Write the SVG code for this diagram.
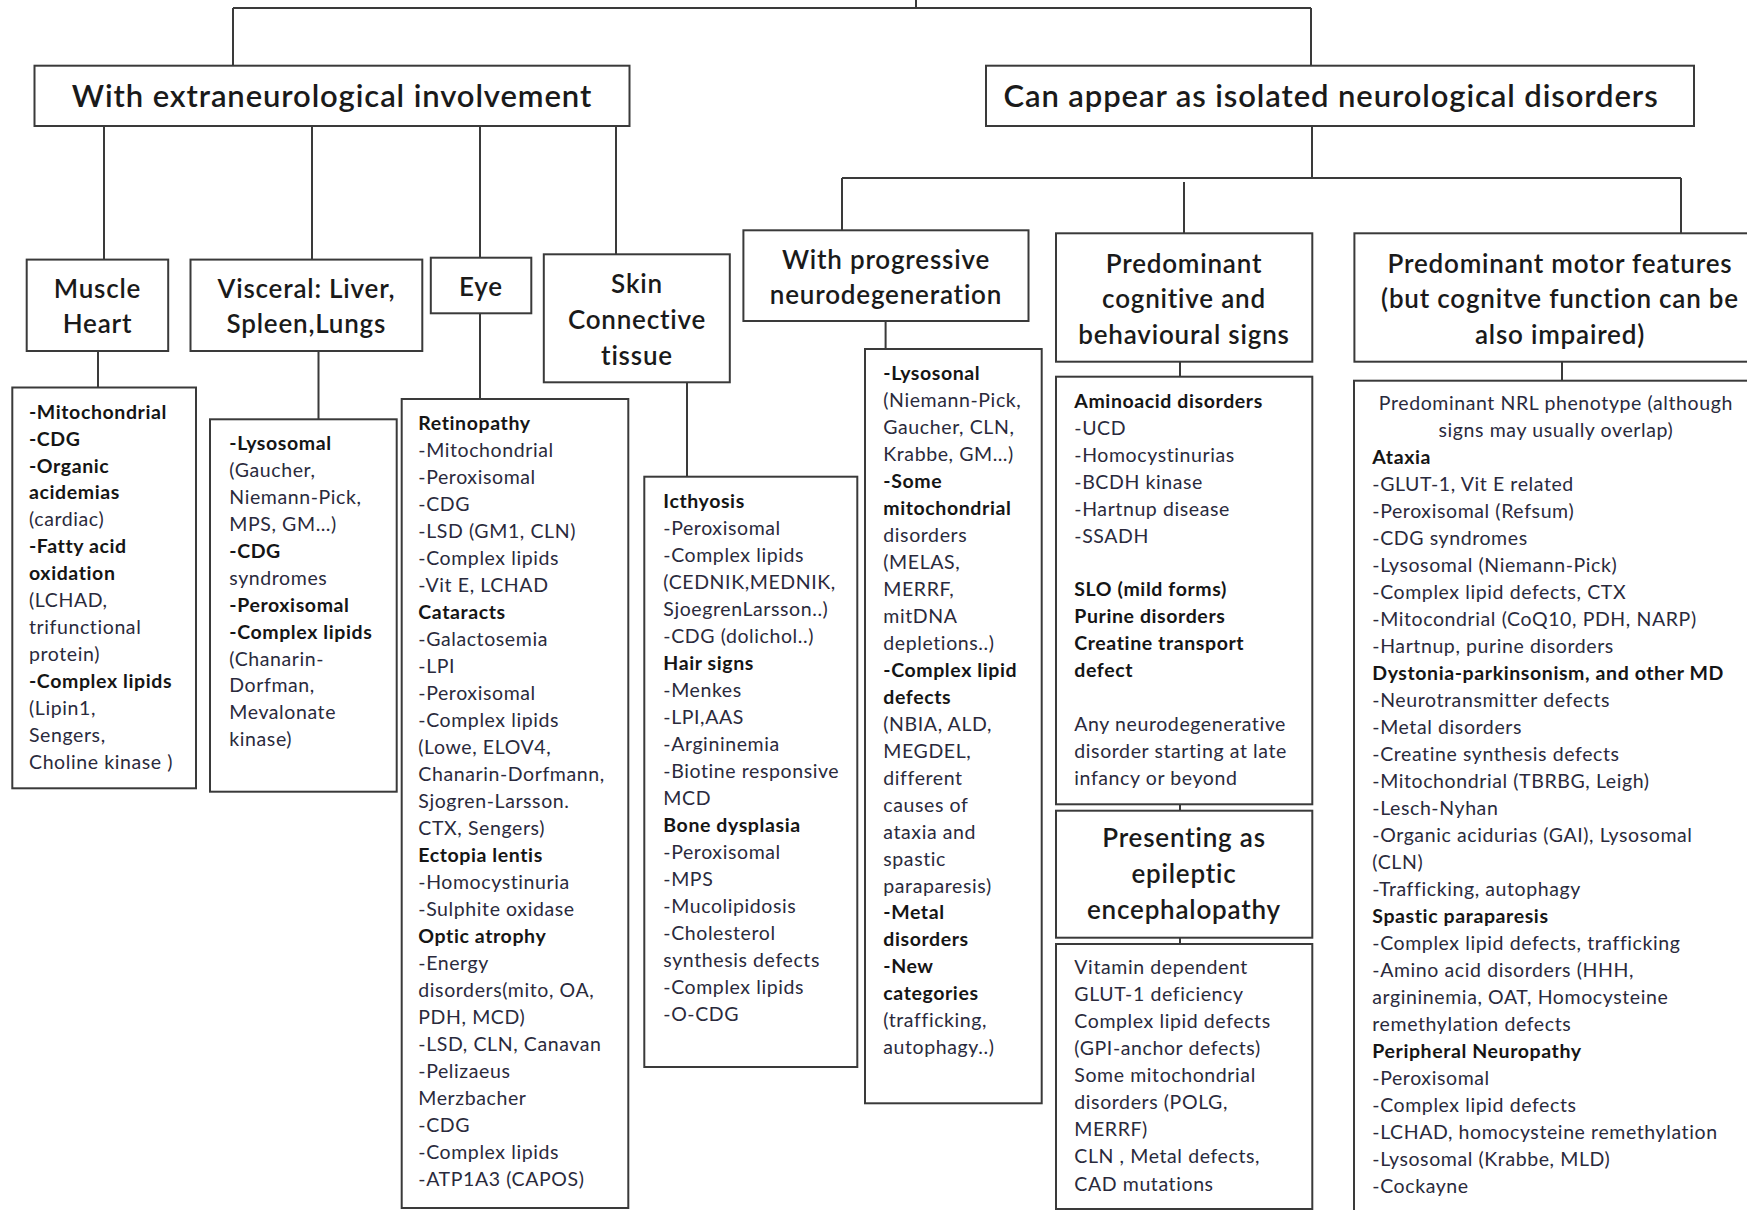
<svg xmlns="http://www.w3.org/2000/svg" width="1747" height="1210" viewBox="0 0 1747 1210">
<style>
.box{fill:#fff;stroke:#3a3a3a;stroke-width:2}
.conn{fill:none;stroke:#3a3a3a;stroke-width:2}
.hd{font-family:Lato,'Liberation Sans',sans-serif;font-size:26px;font-weight:600;letter-spacing:0.8px;fill:#1a1a1a;text-anchor:middle}
.tt{font-size:31px;letter-spacing:0.9px}
.bd{font-family:Lato,'Liberation Sans',sans-serif;font-size:19.5px;letter-spacing:0.6px;fill:#2a2a3c}
.b{font-weight:bold;fill:#151515}
.ctr{text-anchor:middle}
</style>
<rect width="1747" height="1210" fill="#fff"/>
<g id="connectors">
<path class="conn" d="M916,0V8M233,8H1311M233,8V66M1311,8V66"/>
<path class="conn" d="M104,126V260M312,126V260M480,126V258M616,121V254"/>
<path class="conn" d="M98,351V388M318.5,348V420M480,305V399M687,377V477"/>
<path class="conn" d="M1312,126V178M842,178H1681M842,178V231M1184,182V234M1681,178V234"/>
<path class="conn" d="M885.6,321V349M1180,362V388M1562,362V388M1180,792V814M1180,938V957"/>
</g>
<g id="n-extra">
<rect class="box" x="34.5" y="65.7" width="595" height="60.3"/>
<text class="hd tt" x="332" y="107">With extraneurological involvement</text>
</g>
<g id="n-isolated">
<rect class="box" x="986" y="65.7" width="708" height="60.3"/>
<text class="hd tt" x="1331" y="107">Can appear as isolated neurological disorders</text>
</g>
<g id="n-muscle">
<rect class="box" x="26.7" y="259.6" width="141.5" height="91.4"/>
<text class="hd" x="97.5" y="297.6">Muscle</text>
<text class="hd" x="97.5" y="332.6">Heart</text>
</g>
<g id="n-visceral">
<rect class="box" x="190.5" y="259.6" width="231.8" height="91.4"/>
<text class="hd" x="306.4" y="297.6">Visceral: Liver,</text>
<text class="hd" x="306.4" y="332.6">Spleen,Lungs</text>
</g>
<g id="n-eye">
<rect class="box" x="430.8" y="257.7" width="100.5" height="55.6"/>
<text class="hd" x="481" y="296.3">Eye</text>
</g>
<g id="n-skin">
<rect class="box" x="543.8" y="254.3" width="186" height="128"/>
<text class="hd" x="637" y="292.6">Skin</text>
<text class="hd" x="637" y="329.3">Connective</text>
<text class="hd" x="637" y="365.3">tissue</text>
</g>
<g id="n-muscle-list">
<rect class="box" x="12.3" y="387.5" width="183.7" height="400.8"/>
<text class="bd" y="418.7">
<tspan x="29" class="b">-Mitochondrial</tspan>
<tspan x="29" dy="26.93" class="b">-CDG</tspan>
<tspan x="29" dy="26.93" class="b">-Organic</tspan>
<tspan x="29" dy="26.93" class="b">acidemias</tspan>
<tspan x="29" dy="26.93">(cardiac)</tspan>
<tspan x="29" dy="26.93" class="b">-Fatty acid</tspan>
<tspan x="29" dy="26.93" class="b">oxidation</tspan>
<tspan x="29" dy="26.93">(LCHAD,</tspan>
<tspan x="29" dy="26.93">trifunctional</tspan>
<tspan x="29" dy="26.93">protein)</tspan>
<tspan x="29" dy="26.93" class="b">-Complex lipids</tspan>
<tspan x="29" dy="26.93">(Lipin1,</tspan>
<tspan x="29" dy="26.93">Sengers,</tspan>
<tspan x="29" dy="26.93">Choline kinase )</tspan>
</text>
</g>
<g id="n-visceral-list">
<rect class="box" x="210" y="419.3" width="186.7" height="372.4"/>
<text class="bd" y="450.3">
<tspan x="229.3" class="b">-Lysosomal</tspan>
<tspan x="229.3" dy="26.9">(Gaucher,</tspan>
<tspan x="229.3" dy="26.9">Niemann-Pick,</tspan>
<tspan x="229.3" dy="26.9">MPS, GM…)</tspan>
<tspan x="229.3" dy="26.9" class="b">-CDG</tspan>
<tspan x="229.3" dy="26.9">syndromes</tspan>
<tspan x="229.3" dy="26.9" class="b">-Peroxisomal</tspan>
<tspan x="229.3" dy="26.9" class="b">-Complex lipids</tspan>
<tspan x="229.3" dy="26.9">(Chanarin-</tspan>
<tspan x="229.3" dy="26.9">Dorfman,</tspan>
<tspan x="229.3" dy="26.9">Mevalonate</tspan>
<tspan x="229.3" dy="26.9">kinase)</tspan>
</text>
</g>
<g id="n-eye-list">
<rect class="box" x="401.7" y="399" width="226.6" height="809"/>
<text class="bd" y="429.7">
<tspan x="418.3" class="b">Retinopathy</tspan>
<tspan x="418.3" dy="27">-Mitochondrial</tspan>
<tspan x="418.3" dy="27">-Peroxisomal</tspan>
<tspan x="418.3" dy="27">-CDG</tspan>
<tspan x="418.3" dy="27">-LSD (GM1, CLN)</tspan>
<tspan x="418.3" dy="27">-Complex lipids</tspan>
<tspan x="418.3" dy="27">-Vit E, LCHAD</tspan>
<tspan x="418.3" dy="27" class="b">Cataracts</tspan>
<tspan x="418.3" dy="27">-Galactosemia</tspan>
<tspan x="418.3" dy="27">-LPI</tspan>
<tspan x="418.3" dy="27">-Peroxisomal</tspan>
<tspan x="418.3" dy="27">-Complex lipids</tspan>
<tspan x="418.3" dy="27">(Lowe, ELOV4,</tspan>
<tspan x="418.3" dy="27">Chanarin-Dorfmann,</tspan>
<tspan x="418.3" dy="27">Sjogren-Larsson.</tspan>
<tspan x="418.3" dy="27">CTX, Sengers)</tspan>
<tspan x="418.3" dy="27" class="b">Ectopia lentis</tspan>
<tspan x="418.3" dy="27">-Homocystinuria</tspan>
<tspan x="418.3" dy="27">-Sulphite oxidase</tspan>
<tspan x="418.3" dy="27" class="b">Optic atrophy</tspan>
<tspan x="418.3" dy="27">-Energy</tspan>
<tspan x="418.3" dy="27">disorders(mito, OA,</tspan>
<tspan x="418.3" dy="27">PDH, MCD)</tspan>
<tspan x="418.3" dy="27">-LSD, CLN, Canavan</tspan>
<tspan x="418.3" dy="27">-Pelizaeus</tspan>
<tspan x="418.3" dy="27">Merzbacher</tspan>
<tspan x="418.3" dy="27">-CDG</tspan>
<tspan x="418.3" dy="27">-Complex lipids</tspan>
<tspan x="418.3" dy="27">-ATP1A3 (CAPOS)</tspan>
</text>
</g>
<g id="n-skin-list">
<rect class="box" x="644.3" y="476.7" width="213" height="590.3"/>
<text class="bd" y="507.7">
<tspan x="663.3" class="b">Icthyosis</tspan>
<tspan x="663.3" dy="27">-Peroxisomal</tspan>
<tspan x="663.3" dy="27">-Complex lipids</tspan>
<tspan x="663.3" dy="27">(CEDNIK,MEDNIK,</tspan>
<tspan x="663.3" dy="27">SjoegrenLarsson..)</tspan>
<tspan x="663.3" dy="27">-CDG (dolichol..)</tspan>
<tspan x="663.3" dy="27" class="b">Hair signs</tspan>
<tspan x="663.3" dy="27">-Menkes</tspan>
<tspan x="663.3" dy="27">-LPI,AAS</tspan>
<tspan x="663.3" dy="27">-Argininemia</tspan>
<tspan x="663.3" dy="27">-Biotine responsive</tspan>
<tspan x="663.3" dy="27">MCD</tspan>
<tspan x="663.3" dy="27" class="b">Bone dysplasia</tspan>
<tspan x="663.3" dy="27">-Peroxisomal</tspan>
<tspan x="663.3" dy="27">-MPS</tspan>
<tspan x="663.3" dy="27">-Mucolipidosis</tspan>
<tspan x="663.3" dy="27">-Cholesterol</tspan>
<tspan x="663.3" dy="27">synthesis defects</tspan>
<tspan x="663.3" dy="27">-Complex lipids</tspan>
<tspan x="663.3" dy="27">-O-CDG</tspan>
</text>
</g>
<g id="n-progressive">
<rect class="box" x="743.4" y="230.3" width="285.1" height="90.7"/>
<text class="hd" x="886" y="269.3">With progressive</text>
<text class="hd" x="886" y="304.3">neurodegeneration</text>
</g>
<g id="n-progressive-list">
<rect class="box" x="865" y="349" width="176.7" height="754.3"/>
<text class="bd" y="380.3">
<tspan x="883.3" class="b">-Lysosonal</tspan>
<tspan x="883.3" dy="26.96">(Niemann-Pick,</tspan>
<tspan x="883.3" dy="26.96">Gaucher, CLN,</tspan>
<tspan x="883.3" dy="26.96">Krabbe, GM…)</tspan>
<tspan x="883.3" dy="26.96" class="b">-Some</tspan>
<tspan x="883.3" dy="26.96" class="b">mitochondrial</tspan>
<tspan x="883.3" dy="26.96">disorders</tspan>
<tspan x="883.3" dy="26.96">(MELAS,</tspan>
<tspan x="883.3" dy="26.96">MERRF,</tspan>
<tspan x="883.3" dy="26.96">mitDNA</tspan>
<tspan x="883.3" dy="26.96">depletions..)</tspan>
<tspan x="883.3" dy="26.96" class="b">-Complex lipid</tspan>
<tspan x="883.3" dy="26.96" class="b">defects</tspan>
<tspan x="883.3" dy="26.96">(NBIA, ALD,</tspan>
<tspan x="883.3" dy="26.96">MEGDEL,</tspan>
<tspan x="883.3" dy="26.96">different</tspan>
<tspan x="883.3" dy="26.96">causes of</tspan>
<tspan x="883.3" dy="26.96">ataxia and</tspan>
<tspan x="883.3" dy="26.96">spastic</tspan>
<tspan x="883.3" dy="26.96">paraparesis)</tspan>
<tspan x="883.3" dy="26.96" class="b">-Metal</tspan>
<tspan x="883.3" dy="26.96" class="b">disorders</tspan>
<tspan x="883.3" dy="26.96" class="b">-New</tspan>
<tspan x="883.3" dy="26.96" class="b">categories</tspan>
<tspan x="883.3" dy="26.96">(trafficking,</tspan>
<tspan x="883.3" dy="26.96">autophagy..)</tspan>
</text>
</g>
<g id="n-cognitive">
<rect class="box" x="1056" y="233.3" width="256.3" height="128.4"/>
<text class="hd" x="1184" y="272.6">Predominant</text>
<text class="hd" x="1184" y="307.6">cognitive and</text>
<text class="hd" x="1184" y="344.3">behavioural signs</text>
</g>
<g id="n-cognitive-list">
<rect class="box" x="1056" y="376.7" width="256.3" height="427.6"/>
<text class="bd" y="408">
<tspan x="1074.3" class="b">Aminoacid disorders</tspan>
<tspan x="1074.3" dy="26.9">-UCD</tspan>
<tspan x="1074.3" dy="26.9">-Homocystinurias</tspan>
<tspan x="1074.3" dy="26.9">-BCDH kinase</tspan>
<tspan x="1074.3" dy="26.9">-Hartnup disease</tspan>
<tspan x="1074.3" dy="26.9">-SSADH</tspan>
<tspan x="1074.3" dy="53.8" class="b">SLO (mild forms)</tspan>
<tspan x="1074.3" dy="26.9" class="b">Purine disorders</tspan>
<tspan x="1074.3" dy="26.9" class="b">Creatine transport</tspan>
<tspan x="1074.3" dy="26.9" class="b">defect</tspan>
<tspan x="1074.3" dy="53.8">Any neurodegenerative</tspan>
<tspan x="1074.3" dy="26.9">disorder starting at late</tspan>
<tspan x="1074.3" dy="26.9">infancy or beyond</tspan>
</text>
</g>
<g id="n-epileptic">
<rect class="box" x="1056" y="810.7" width="256.3" height="127"/>
<text class="hd" x="1184" y="846.6">Presenting as</text>
<text class="hd" x="1184" y="883.3">epileptic</text>
<text class="hd" x="1184" y="918.6">encephalopathy</text>
</g>
<g id="n-epileptic-list">
<rect class="box" x="1056" y="944" width="256.3" height="265"/>
<text class="bd" y="973.7">
<tspan x="1074.3">Vitamin dependent</tspan>
<tspan x="1074.3" dy="27.1">GLUT-1 deficiency</tspan>
<tspan x="1074.3" dy="27.1">Complex lipid defects</tspan>
<tspan x="1074.3" dy="27.1">(GPI-anchor defects)</tspan>
<tspan x="1074.3" dy="27.1">Some mitochondrial</tspan>
<tspan x="1074.3" dy="27.1">disorders (POLG,</tspan>
<tspan x="1074.3" dy="27.1">MERRF)</tspan>
<tspan x="1074.3" dy="27.1">CLN , Metal defects,</tspan>
<tspan x="1074.3" dy="27.1">CAD mutations</tspan>
</text>
</g>
<g id="n-motor">
<rect class="box" x="1354.4" y="233.3" width="420" height="128.4"/>
<text class="hd" x="1560" y="272.6">Predominant motor features</text>
<text class="hd" x="1560" y="307.6">(but cognitve function can be</text>
<text class="hd" x="1560" y="344.3">also impaired)</text>
</g>
<g id="n-motor-list">
<rect class="box" x="1354" y="380.7" width="420" height="850"/>
<text class="bd" y="409.7">
<tspan x="1558.7" class="ctr">Predominant NRL phenotype (although</tspan>
<tspan x="1558.7" dy="27" class="ctr">signs may usually overlap)</tspan>
<tspan x="1372.3" dy="27" class="b">Ataxia</tspan>
<tspan x="1372.3" dy="27">-GLUT-1, Vit E related</tspan>
<tspan x="1372.3" dy="27">-Peroxisomal (Refsum)</tspan>
<tspan x="1372.3" dy="27">-CDG syndromes</tspan>
<tspan x="1372.3" dy="27">-Lysosomal (Niemann-Pick)</tspan>
<tspan x="1372.3" dy="27">-Complex lipid defects, CTX</tspan>
<tspan x="1372.3" dy="27">-Mitocondrial (CoQ10, PDH, NARP)</tspan>
<tspan x="1372.3" dy="27">-Hartnup, purine disorders</tspan>
<tspan x="1372.3" dy="27" class="b">Dystonia-parkinsonism, and other MD</tspan>
<tspan x="1372.3" dy="27">-Neurotransmitter defects</tspan>
<tspan x="1372.3" dy="27">-Metal disorders</tspan>
<tspan x="1372.3" dy="27">-Creatine synthesis defects</tspan>
<tspan x="1372.3" dy="27">-Mitochondrial (TBRBG, Leigh)</tspan>
<tspan x="1372.3" dy="27">-Lesch-Nyhan</tspan>
<tspan x="1372.3" dy="27">-Organic acidurias  (GAI), Lysosomal</tspan>
<tspan x="1372.3" dy="27">(CLN)</tspan>
<tspan x="1372.3" dy="27">-Trafficking, autophagy</tspan>
<tspan x="1372.3" dy="27" class="b">Spastic paraparesis</tspan>
<tspan x="1372.3" dy="27">-Complex lipid defects, trafficking</tspan>
<tspan x="1372.3" dy="27">-Amino acid disorders  (HHH,</tspan>
<tspan x="1372.3" dy="27">argininemia, OAT, Homocysteine</tspan>
<tspan x="1372.3" dy="27">remethylation  defects</tspan>
<tspan x="1372.3" dy="27" class="b">Peripheral Neuropathy</tspan>
<tspan x="1372.3" dy="27">-Peroxisomal</tspan>
<tspan x="1372.3" dy="27">-Complex lipid defects</tspan>
<tspan x="1372.3" dy="27">-LCHAD, homocysteine remethylation</tspan>
<tspan x="1372.3" dy="27">-Lysosomal (Krabbe, MLD)</tspan>
<tspan x="1372.3" dy="27">-Cockayne</tspan>
</text>
</g>
</svg>
